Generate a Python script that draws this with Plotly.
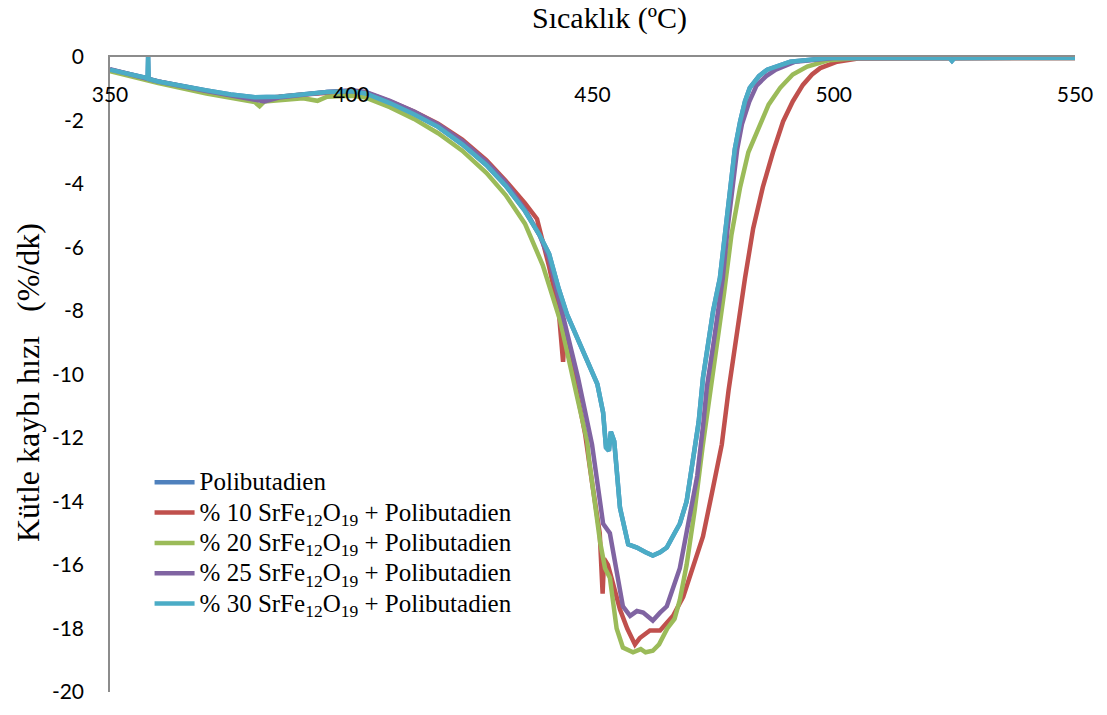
import plotly.graph_objects as go

# Temperature (°C) and mass-loss rate (%/min) for each sample
t_pct30 = [350, 355, 357.8, 357.9, 358.0, 360, 365, 370, 375, 380, 385, 390, 395, 400, 403, 408,
           413, 418, 423, 428, 432, 436, 439, 441, 443, 444.7, 447, 449.5, 451, 452.2, 452.8,
           453.4, 453.8, 454.5, 455.7, 457.4, 459.2, 461, 462.5, 464, 465.4, 467, 468.1, 469.5,
           470.8, 472, 472.9, 474, 475, 476.4, 477.5, 478.5, 479.5, 480.6, 481.6, 482.6, 484.5,
           486.2, 491, 499, 510, 520, 524, 524.5, 525, 540, 550]
y_pct30 = [-0.40, -0.58, -0.67, 0.0, -0.69, -0.77, -0.92, -1.05, -1.18, -1.27, -1.25, -1.17, -1.10,
           -1.08, -1.15, -1.45, -1.80, -2.20, -2.75, -3.40, -4.05, -4.85, -5.6, -6.2, -7.3, -8.1,
           -8.9, -9.7, -10.3, -11.2, -12.3, -12.4, -11.8, -12.1, -14.2, -15.35, -15.45, -15.6,
           -15.7, -15.6, -15.45, -15.0, -14.7, -14.0, -12.8, -11.5, -10.1, -9.0, -8.0, -6.97,
           -5.6, -4.1, -2.9, -2.03, -1.4, -0.97, -0.6, -0.4, -0.15, -0.03, -0.02, -0.03, -0.03,
           -0.12, -0.03, -0.02, -0.02]

t_pct25 = [350, 360, 370, 380, 382, 385, 390, 395, 400, 403, 408, 413, 418, 423, 428, 432, 436,
           439, 441, 443.9, 447, 449.9, 451.6, 452.2, 453.6, 455, 456.3, 457.8, 459.2, 460.5,
           462.5, 464, 465.4, 468.1, 469.8, 471.7, 473, 473.7, 475, 476, 477, 478, 479, 480, 481,
           482.5, 484, 486, 488, 492, 500, 550]
y_pct25 = [-0.38, -0.77, -1.07, -1.32, -1.40, -1.28, -1.18, -1.10, -1.05, -1.10, -1.38, -1.72,
           -2.12, -2.65, -3.30, -3.95, -4.8, -5.6, -6.35, -8.1, -10.1, -12.2, -14.25, -14.7,
           -15.0, -16.3, -17.3, -17.6, -17.45, -17.5, -17.75, -17.5, -17.3, -16.1, -14.8, -13.2,
           -11.5, -10.4, -9.1, -8.0, -6.97, -5.4, -4.0, -2.9, -2.1, -1.4, -0.9, -0.6, -0.4,
           -0.15, -0.03, -0.03]

t_pct20 = [350, 360, 370, 380, 381, 382, 390, 393, 395, 400, 403, 408, 413, 418, 423, 428, 432,
           436, 439.7, 443.3, 446.8, 448.9, 449.3, 451.6, 452.6, 453.6, 455, 456.3, 458.4, 460,
           461, 462.5, 463.8, 465.5, 467, 468.1, 469.5, 471.2, 472.8, 474.4, 475.8, 477.3, 478.8,
           480.6, 482.3, 484.1, 486.5, 488.9, 491.5, 494.5, 499, 505, 550]
y_pct20 = [-0.45, -0.82, -1.15, -1.42, -1.55, -1.40, -1.30, -1.38, -1.25, -1.22, -1.28, -1.58,
           -1.95, -2.40, -2.95, -3.65, -4.35, -5.25, -6.56, -8.3, -10.7, -12.1, -12.7, -15.3,
           -16.1, -16.4, -18.0, -18.6, -18.75, -18.65, -18.75, -18.7, -18.5, -18.0, -17.7, -17.1,
           -16.0, -14.25, -12.3, -10.6, -8.9, -7.4, -5.6, -4.1, -3.0, -2.34, -1.5, -0.97, -0.55,
           -0.3, -0.1, -0.03, -0.03]

t_pct10 = [350, 360, 370, 380, 390, 400, 403, 408, 413, 418, 423, 428, 432, 436, 438.5, 439.5,
           441, 443, 443.9, 444.3, 446.5, 448.5, 450, 451.5, 452.1, 452.4, 453.2, 455.7, 457.2,
           458.8, 459.8, 461.9, 464, 466.7, 468.8, 471, 472.9, 474.8, 476.8, 478.2, 479.5, 480.6,
           481.6, 483.3, 485.3, 487.4, 489.5, 491.5, 493.6, 495.5, 497.2, 500.7, 505, 550]
y_pct10 = [-0.40, -0.78, -1.08, -1.33, -1.18, -1.08, -1.12, -1.40, -1.72, -2.10, -2.60, -3.25,
           -3.90, -4.60, -5.1, -5.7, -6.6, -8.0, -9.6, -8.6, -10.4, -11.9, -13.5, -15.0, -16.9,
           -15.8, -16.0, -17.4, -18.0, -18.5, -18.3, -18.06, -18.06, -17.6, -17.0, -16.0, -15.1,
           -13.7, -12.2, -10.5, -9.06, -7.9, -6.97, -5.4, -4.1, -3.0, -2.03, -1.4, -0.88, -0.55,
           -0.35, -0.15, -0.05, -0.03]

# Neat polybutadiene run (plotted first, lies beneath the filled samples)
t_pb = list(t_pct30)
y_pb = list(y_pct30)

series = [
    ("Polibutadien", t_pb, y_pb, "#4F81BD"),
    ("% 10 SrFe<sub>12</sub>O<sub>19</sub> + Polibutadien", t_pct10, y_pct10, "#C0504D"),
    ("% 20 SrFe<sub>12</sub>O<sub>19</sub> + Polibutadien", t_pct20, y_pct20, "#9BBB59"),
    ("% 25 SrFe<sub>12</sub>O<sub>19</sub> + Polibutadien", t_pct25, y_pct25, "#8064A2"),
    ("% 30 SrFe<sub>12</sub>O<sub>19</sub> + Polibutadien", t_pct30, y_pct30, "#4BACC6"),
]

x_ticks = [350, 400, 450, 500, 550]
y_ticks = [0, -2, -4, -6, -8, -10, -12, -14, -16, -18, -20]
y_ticktext = [str(v) for v in y_ticks]  # plain hyphen minus

fig = go.Figure()
for name, t, y, color in series:
    fig.add_trace(go.Scatter(
        x=t, y=y, mode="lines",
        name=f"<span style='font-size:25px'>{name}</span>",
        line=dict(color=color, width=4.5),
    ))

serif = "Liberation Serif, Times New Roman, serif"
sans = "Lato, Open Sans, sans-serif"

fig.update_layout(
    width=1107, height=715,
    margin=dict(l=110, r=32, t=57, b=18),
    paper_bgcolor="white", plot_bgcolor="white",
    showlegend=True,
    legend=dict(
        x=0.041, y=0.362, xanchor="left", yanchor="top",
        font=dict(family=serif, size=21, color="black"),
        bgcolor="rgba(255,255,255,0)", tracegroupgap=0,
        itemwidth=40,
    ),
    xaxis=dict(
        side="top", range=[350, 550], tickvals=x_ticks,
        ticklabelstandoff=-55,
        showline=True, linecolor="#8c8c8c", linewidth=1.5,
        showgrid=False, zeroline=False, ticks="",
        tickfont=dict(family=sans, size=21, color="black"),
    ),
    yaxis=dict(
        range=[-20, 0], tickvals=y_ticks, ticktext=y_ticktext,
        showline=True, linecolor="#8c8c8c", linewidth=1.5,
        showgrid=False, zeroline=False, ticks="", ticklabelstandoff=20,
        tickfont=dict(family=sans, size=21, color="black"),
    ),
    annotations=[
        dict(text="Sıcaklık (ºC)", xref="paper", yref="paper", x=0.518, y=1.061,
             xanchor="center", yanchor="middle", showarrow=False,
             font=dict(family=serif, size=30, color="black")),
        dict(text="Kütle kaybı hızı \u00a0\u00a0(%/dk)", xref="paper", yref="paper",
             x=-0.085, y=0.488, xanchor="center", yanchor="middle", textangle=-90,
             showarrow=False, font=dict(family=serif, size=32, color="black")),
    ],
)

fig.write_html("out.html")
